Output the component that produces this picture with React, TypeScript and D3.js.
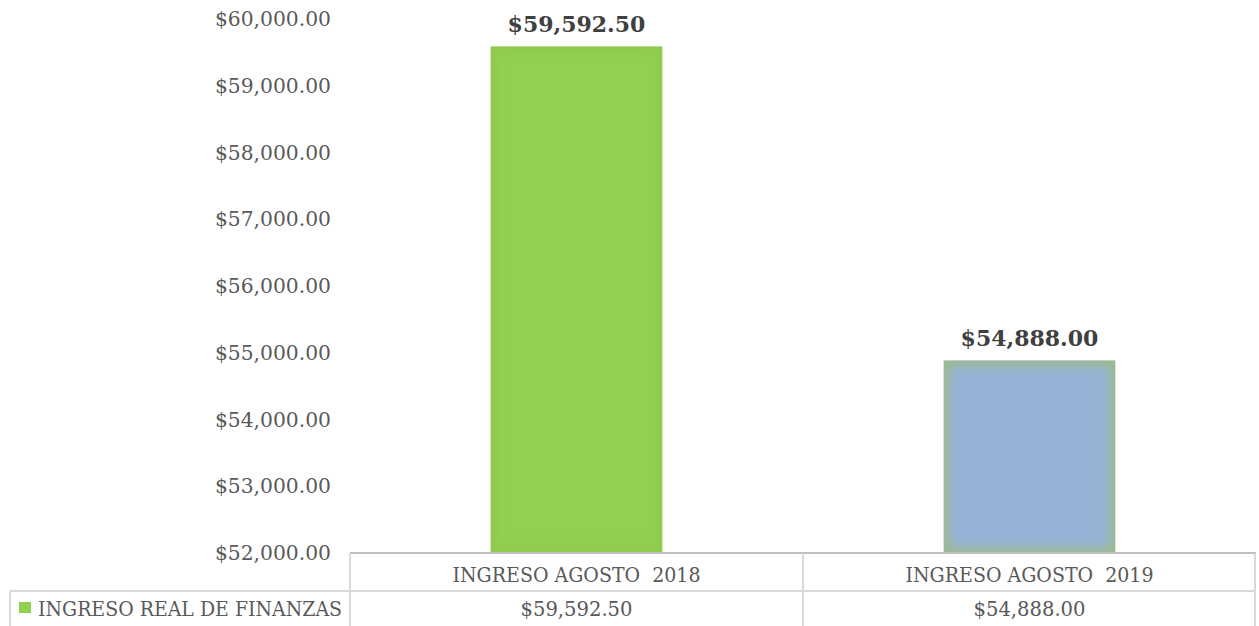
import React from "react";
import * as d3 from "d3";

const categories = ["INGRESO AGOSTO  2018", "INGRESO AGOSTO  2019"];
const values = [59592.5, 54888.0];
const seriesName = "INGRESO REAL DE FINANZAS";
const yTicks = [52000, 53000, 54000, 55000, 56000, 57000, 58000, 59000, 60000];
const barFill = ["#92D050", "#95B3D7"];
const barEdge = ["#8EC94F", "#9DBB8A"];

const W = 1259;
const H = 626;
const FONT = "'DejaVu Serif', 'Liberation Serif', serif";

export default function App() {
  const left = 350, right = 1256, top = 19, bottom = 553;
  const y = d3.scaleLinear().domain([52000, 60000]).range([bottom, top]);
  const x = d3.scaleBand().domain(categories).range([left, right]).paddingInner(0).paddingOuter(0);
  const bw = x.bandwidth() * 0.38;
  const fmt = (v: number) => "$" + d3.format(",.2f")(v);
  const rowLine = 591;

  return (
    <svg width={W} height={H} style={{ position: "absolute", left: 0, top: 0 }}>
      <defs>
        <filter id="soft" x="-20%" y="-20%" width="140%" height="140%">
          <feGaussianBlur stdDeviation="6" />
        </filter>
        {categories.map((c, i) => (
          <clipPath id={`clip${i}`} key={c}>
            <rect
              x={(x(c) as number) + x.bandwidth() / 2 - bw / 2}
              y={y(values[i])}
              width={bw}
              height={bottom - y(values[i])}
            />
          </clipPath>
        ))}
      </defs>
      <rect x={0} y={0} width={W} height={H} fill="#ffffff" />
      {yTicks.map((t) => (
        <text
          key={t}
          x={331}
          y={y(t)}
          dy="0.35em"
          textAnchor="end"
          fontFamily={FONT}
          fontSize={20.3}
          fill="#595959"
        >
          {fmt(t)}
        </text>
      ))}
      {categories.map((c, i) => {
        const bx = (x(c) as number) + x.bandwidth() / 2 - bw / 2;
        const by = y(values[i]);
        const bh = bottom - by;
        const cx = (x(c) as number) + x.bandwidth() / 2;
        return (
          <g key={c}>
            <g clipPath={`url(#clip${i})`}>
              <rect x={bx} y={by} width={bw} height={bh} fill={barEdge[i]} />
              <rect
                x={bx + 5}
                y={by + 5}
                width={bw - 10}
                height={bh - 10}
                fill={barFill[i]}
                filter="url(#soft)"
              />
            </g>
            <text
              x={bx + bw / 2}
              y={by - 14}
              textAnchor="middle"
              fontFamily={FONT}
              fontSize={22}
              fontWeight="bold"
              fill="#404040"
            >
              {fmt(values[i])}
            </text>
            <text
              x={cx}
              y={575}
              dy="0.35em"
              textAnchor="middle"
              fontFamily={FONT}
              fontSize={20}
              fill="#595959"
              style={{ whiteSpace: "pre" }}
              textLength={248}
              lengthAdjust="spacingAndGlyphs"
            >
              {c}
            </text>
            <text
              x={cx}
              y={609}
              dy="0.35em"
              textAnchor="middle"
              fontFamily={FONT}
              fontSize={20}
              fill="#595959"
              textLength={112}
              lengthAdjust="spacingAndGlyphs"
            >
              {fmt(values[i])}
            </text>
          </g>
        );
      })}
      {/* table grid */}
      <line x1={left} x2={right} y1={553} y2={553} stroke="#BFBFBF" strokeWidth={2} />
      <line x1={10} x2={right} y1={rowLine} y2={rowLine} stroke="#D9D9D9" strokeWidth={2} />
      {[left, x(categories[1]) as number, right - 1].map((vx, i) => (
        <line key={i} x1={vx} x2={vx} y1={553} y2={H} stroke="#D9D9D9" strokeWidth={2} />
      ))}
      <line x1={10} x2={10} y1={rowLine} y2={H} stroke="#D9D9D9" strokeWidth={2} />
      <rect x={19} y={602} width={12} height={11} fill={barFill[0]} />
      <text
        x={38}
        y={609}
        dy="0.35em"
        fontFamily={FONT}
        fontSize={20}
        fill="#595959"
        textLength={304}
        lengthAdjust="spacingAndGlyphs"
      >
        {seriesName}
      </text>
    </svg>
  );
}
